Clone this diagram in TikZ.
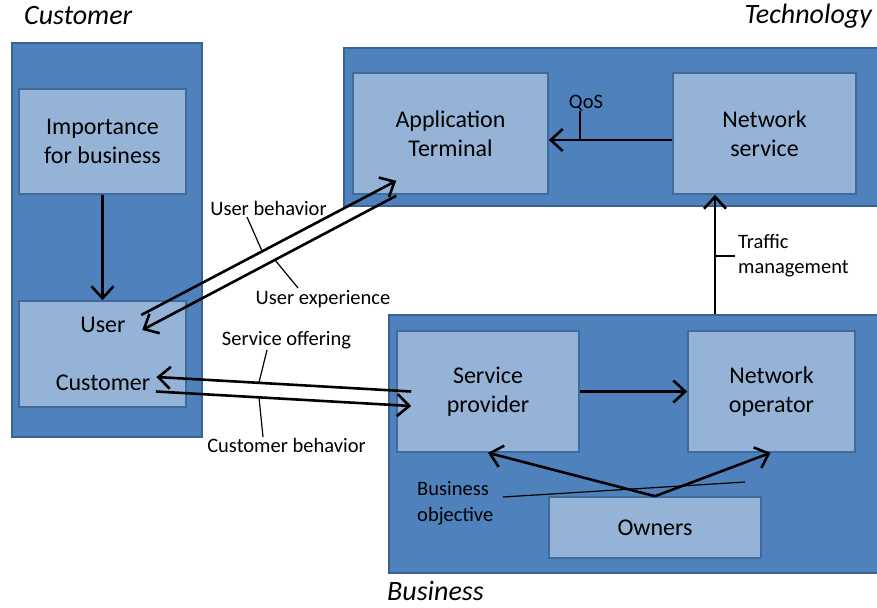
\documentclass[tikz,border=0pt]{standalone}
\usepackage{fontspec}
\setmainfont{Carlito}
\usetikzlibrary{arrows.meta,calc}
\definecolor{outerfill}{HTML}{4F81BD}
\definecolor{outerline}{HTML}{3B6391}
\definecolor{innerfill}{HTML}{95B3D7}
\definecolor{innerline}{HTML}{3F6A9B}
\tikzset{
  container/.style={draw=outerline, fill=outerfill, line width=1.6pt, inner sep=0pt, rectangle},
  inbox/.style={draw=innerline, fill=innerfill, line width=1.6pt, inner sep=0pt, rectangle, align=center,
    font=\fontsize{24}{29}\selectfont},
  boxtext/.style={inner sep=0pt, font=\fontsize{24}{29}\selectfont},
  lbl/.style={inner sep=0pt, align=left, font=\fontsize{20.5}{25.5}\selectfont},
  ttl/.style={inner sep=0pt, font=\fontsize{28}{33}\selectfont\itshape},
  arr/.style={line width=2.6pt, -{Straight Barb[length=12pt,width=22pt]}},
  tick/.style={line width=1.2pt},
}
\begin{document}
\begin{tikzpicture}[x=1pt,y=-1pt]
\useasboundingbox (0,0) rectangle (877,607);
% containers
\node[container, minimum width=190, minimum height=394] (custc) at (107,240) {};
\node[container, minimum width=534, minimum height=158] (techc) at (611,127) {};
\node[container, minimum width=490, minimum height=258] (bizc) at (634,444) {};
% inner boxes
\node[inbox, minimum width=167, minimum height=105] (imp) at (102.5,141.5) {Importance\\for business};
\node[inbox, minimum width=167, minimum height=106] (ucbox) at (102.5,354) {};
\node[boxtext] (usertxt) at (103,325) {User};
\node[boxtext] (custtxt) at (103,383) {Customer};
\node[inbox, minimum width=195, minimum height=121] (app) at (450.5,133.5) {Application\\Terminal};
\node[inbox, minimum width=183, minimum height=121] (netsvc) at (764.5,133.5) {Network\\service};
\node[inbox, minimum width=182, minimum height=121] (sp) at (488,391.5) {Service\\provider};
\node[inbox, minimum width=167, minimum height=121] (netop) at (771.5,391.5) {Network\\operator};
\node[inbox, minimum width=212, minimum height=61] (owners) at (655,527.5) {Owners};
% titles
\node[ttl, anchor=west] (tcust) at (24,16) {Customer};
\node[ttl, anchor=east] (ttech) at (872,16) {Technology};
\node[ttl, anchor=west] (tbiz) at (387,591) {Business};
% labels
\node[lbl] (lub) at (268.5,208) {User behavior};
\node[lbl] (lue) at (323,299) {User experience};
\node[lbl] (lso) at (286.5,340) {Service offering};
\node[lbl] (lcb) at (286.5,445) {Customer behavior};
\node[lbl] (lqos) at (586,103) {QoS};
\node[lbl, anchor=west] (ltm) at (738,255.5) {Traffic\\management};
\node[lbl, anchor=west] (lbo) at (417,503) {Business\\objective};
% arrows
\draw[arr] (imp.south) -- (ucbox.north);
\draw[arr] ($(netsvc.west)+(0,6.5)$) -- ($(app.east)+(0,6.5)$);
\coordinate (tmx) at (715,0);
\draw[arr] (bizc.north -| tmx) -- (netsvc.south -| tmx);
\draw[arr] (sp.east) -- (netop.west);
\draw[arr] (owners.north) -- (sp.south);
\draw[arr] (owners.north) -- ($(netop.south)+(-1,0)$);
\draw[arr] ($(usertxt.east)+(15.5,-10)$) -- ($(app.south west)+(44,-14)$);
\draw[arr] ($(app.south west)+(44,1)$) -- ($(usertxt.east)+(16.5,5)$);
\draw[arr] ($(sp.west)+(15,0)$) -- ($(custtxt.east)+(6,-6)$);
\draw[arr] ($(custtxt.east)+(5.5,8.5)$) -- ($(sp.west)+(15,14.5)$);
% callout ticks
\coordinate (qosend) at (580,140);
\draw[tick] (580,111) -- (qosend);
\coordinate (tmend) at (716,256);
\draw[tick] (ltm.west |- tmend) ++(-3,0) -- (tmend);
\coordinate (ubend) at (262,251);
\draw[tick] (247,217) -- (ubend);
\coordinate (ueend) at (275,260);
\draw[tick] (ueend) -- (298,288);
\coordinate (soend) at (259,382.5);
\draw[tick] (267,350) -- (soend);
\coordinate (cbend) at (259,397.5);
\draw[tick] (cbend) -- (263,437);
\coordinate (boend) at (745,482);
\draw[tick] (503,497) -- (boend);
\end{tikzpicture}
\end{document}
